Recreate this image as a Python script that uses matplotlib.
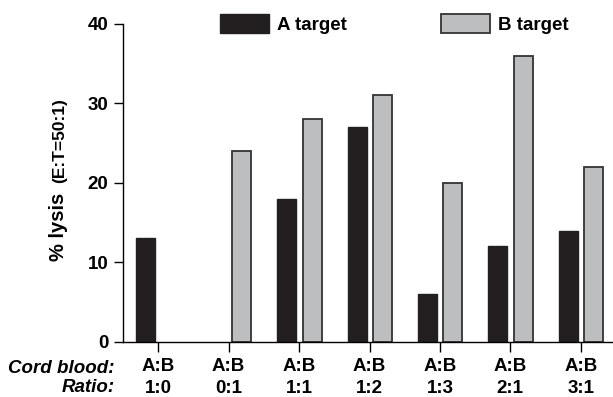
import numpy as np
import matplotlib
matplotlib.use('Agg')
import matplotlib.pyplot as plt

plt.rcParams['font.family'] = ['Liberation Sans', 'DejaVu Sans']
plt.rcParams['font.weight'] = 'bold'

# data
ratios = ['1:0', '0:1', '1:1', '1:2', '1:3', '2:1', '3:1']
a_target = [13, 0, 18, 27, 6, 12, 14]
b_target = [0, 24, 28, 31, 20, 36, 22]

dark = '#231f20'
grey = '#bcbec0'

fig = plt.figure(figsize=(6.13, 3.97), dpi=100)
W, H = 613.0, 397.0
ax = fig.add_axes([123 / W, 1 - 341.7 / H, 493 / W, (341.7 - 24) / H])

x = np.arange(len(ratios))
bw = 0.27
a_vals = np.array(a_target, dtype=float)
b_vals = np.array(b_target, dtype=float)
# zero bars are not drawn in the original
a_mask = a_vals > 0
b_mask = b_vals > 0
ax.bar(x[a_mask] - 0.177, a_vals[a_mask], bw, color=dark, edgecolor=dark,
       linewidth=1.0, label='A target')
ax.bar(x[b_mask] + 0.184, b_vals[b_mask], bw, color=grey, edgecolor='#333333',
       linewidth=1.3, label='B target')

ax.set_xlim(-0.5, 6.5)
ax.set_ylim(0, 40)
ax.set_yticks([0, 10, 20, 30, 40])
ax.set_xticks(x)
ax.set_xticklabels(['A:B\n' + r for r in ratios], linespacing=1.35)
ax.tick_params(axis='y', length=6.5, width=1, labelsize=13.5, pad=4)
ax.tick_params(axis='x', length=7, width=1, labelsize=13.5, pad=5)
for s in ['top', 'right']:
    ax.spines[s].set_visible(False)
for s in ['left', 'bottom']:
    ax.spines[s].set_linewidth(1.0)

# y label in two sizes
fig.text(58 / W, 1 - 261 / H, '% lysis', rotation=90, fontsize=14.5,
         ha='center', va='bottom')
fig.text(60 / W, 1 - 183 / H, '(E:T=50:1)', rotation=90, fontsize=12.5,
         ha='center', va='bottom')

# row headers
fig.text(115 / W, 1 - 373 / H, 'Cord blood:', style='italic', fontsize=13.5,
         ha='right', va='baseline')
fig.text(115 / W, 1 - 392.5 / H, 'Ratio:', style='italic', fontsize=13.5,
         ha='right', va='baseline')

ax.legend(loc='upper left', bbox_to_anchor=(220 / W, 1 - 14 / H),
          bbox_transform=fig.transFigure, ncol=2, frameon=False,
          fontsize=13.5, handlelength=2.6, handleheight=1.2,
          handletextpad=0.45, columnspacing=5.0, borderpad=0,
          borderaxespad=0)

fig.savefig('out.png', dpi=100)
